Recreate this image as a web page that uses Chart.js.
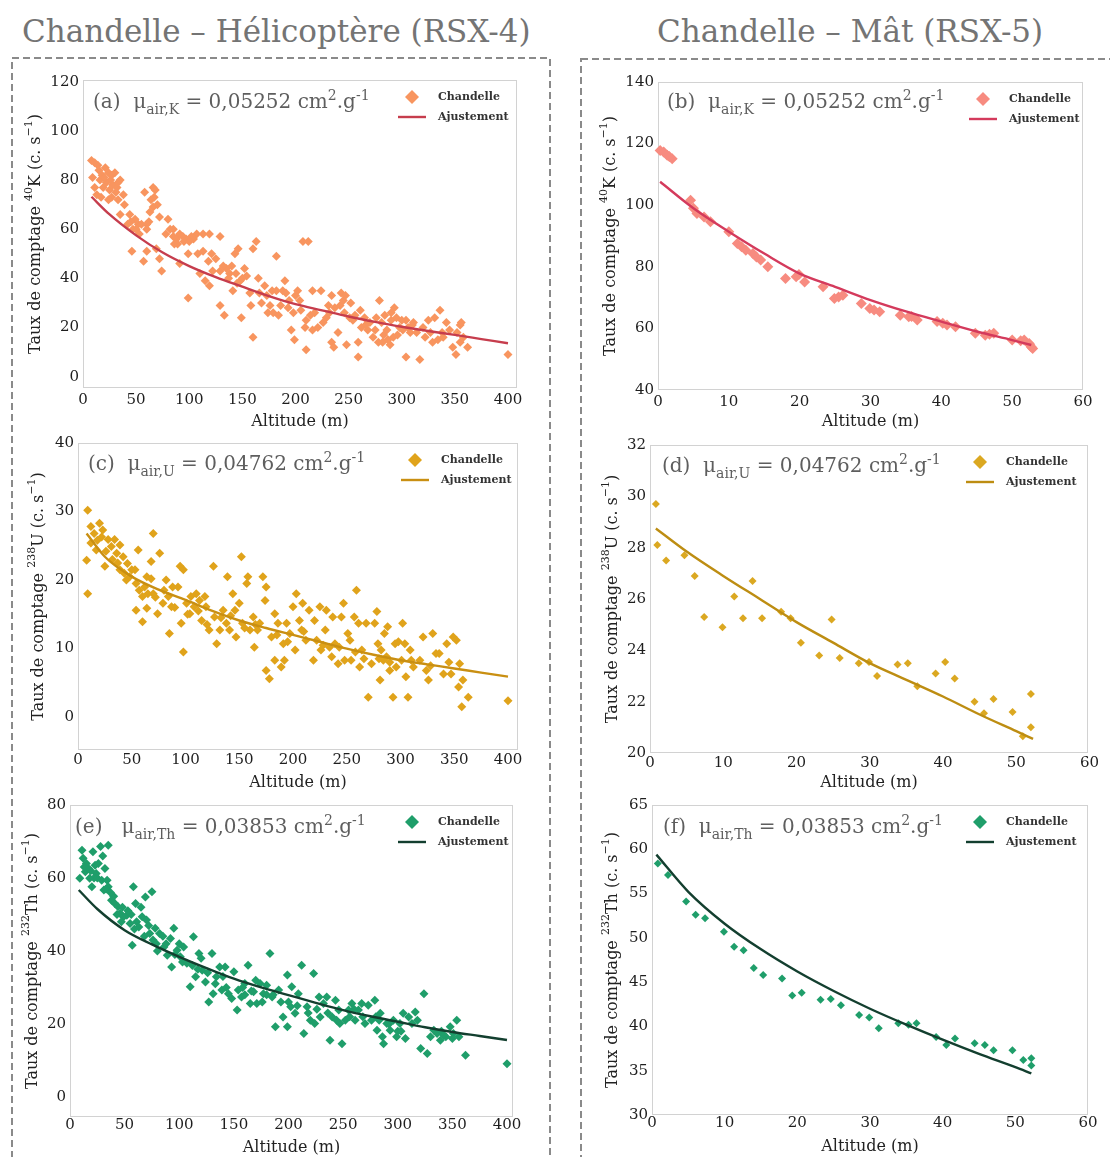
<!DOCTYPE html>
<html>
<head>
<meta charset="utf-8">
<script src="https://cdn.jsdelivr.net/npm/chart.js@4.4.0/dist/chart.umd.min.js"></script>
<style>
  body { margin: 0; background: #fff; width: 1110px; height: 1157px; overflow: hidden; position: relative; font-family: "DejaVu Serif", serif; }
  .ttl { position: absolute; top: 13px; color: #747474; font-size: 31px; white-space: nowrap; }
  canvas { position: absolute; }
  svg { position: absolute; left: 0; top: 0; }
</style>
</head>
<body>
<svg width="1110" height="1157">
  <rect x="12" y="58" width="538" height="1200" fill="none" stroke="#8a8a8a" stroke-width="2" stroke-dasharray="7 4"/>
  <rect x="581" y="59" width="600" height="1200" fill="none" stroke="#8a8a8a" stroke-width="2" stroke-dasharray="7 4"/>
</svg>
<div class="ttl" style="left:22px">Chandelle – Hélicoptère (RSX-4)</div>
<div class="ttl" style="left:657px">Chandelle – Mât (RSX-5)</div>
<canvas id="pa"></canvas>
<canvas id="pb"></canvas>
<canvas id="pc"></canvas>
<canvas id="pd"></canvas>
<canvas id="pe"></canvas>
<canvas id="pf"></canvas>
<script>
'use strict';
// tick labels
let heliTicksX = [0, 50, 100, 150, 200, 250, 300, 350, 400];
let matTicksX = [0, 10, 20, 30, 40, 50, 60];
let kHeliTicksY = [0, 20, 40, 60, 80, 100, 120];
let kMatTicksY = [40, 60, 80, 100, 120, 140];
let uHeliTicksY = [0, 10, 20, 30, 40];
let uMatTicksY = [20, 22, 24, 26, 28, 30, 32];
let thHeliTicksY = [0, 20, 40, 60, 80];
let thMatTicksY = [30, 35, 40, 45, 50, 55, 60, 65];

// 40K, helicopter : [altitude (m), counts (c/s)]
let kHeliPts = [[8,88],[11,87],[14,86],[21,85],[30,83],[9,81],[16,80],[22,79],[28,78],[35,80],[11,77],[19,77],[25,76],[31,75],[17,73],[13,74],[27,73],[33,72],[39,70],[35,66],[44,66],[49,64],[52,62],[42,62],[47,60],[53,58],[60,62],[60,60],[46,51],[57,47],[58,75],[66,77],[68,76],[64,72],[66,69],[63,67],[72,65],[60,51],[72,48],[74,43],[69,52],[78,58],[82,60],[85,57],[88,56],[91,58],[97,56],[104,56],[107,58],[80,64],[89,54],[99,50],[91,46],[99,32],[113,58],[119,58],[121,50],[113,51],[110,42],[115,39],[119,37],[122,43],[129,57],[129,29],[133,25],[129,43],[135,44],[138,42],[141,35],[144,42],[146,52],[143,50],[149,24],[148,39],[154,41],[157,34],[160,52],[163,55],[160,16],[158,29],[165,40],[166,34],[171,37],[173,33],[174,26],[176,29],[179,26],[182,49],[184,25],[182,35],[188,35],[191,34],[190,39],[194,31],[198,26],[196,19],[199,15],[202,35],[204,31],[207,55],[212,55],[210,23],[210,11],[209,20],[216,35],[218,26],[216,19],[221,20],[224,35],[229,24],[231,29],[234,33],[234,14],[236,12],[240,18],[237,28],[242,29],[243,34],[245,31],[246,26],[248,13],[251,24],[254,23],[259,8],[259,14],[261,27],[262,20],[265,24],[268,19],[270,22],[273,16],[276,24],[278,14],[279,31],[281,22],[282,14],[286,19],[284,25],[287,15],[290,23],[292,16],[293,28],[295,24],[298,20],[301,19],[304,8],[304,23],[308,18],[311,22],[317,7],[322,16],[325,23],[329,14],[331,24],[336,27],[334,15],[339,16],[342,22],[348,12],[351,9],[355,21],[356,22],[358,16],[355,14],[362,12],[400,9],[18,82],[26,80],[32,77],[24,83],[85,60],[95,55],[102,57],[140,45],[150,40],[200,33],[252,30],[290,26],[310,21],[345,19],
    [15,84],[20,81],[27,82],[33,79],[38,74],[24,72],[45,63],[50,60],[55,62],[62,63],[70,70],[67,73],[86,54],[94,57],[100,55],[108,50],[118,47],[125,48],[132,45],[137,40],[145,38],[152,44],[168,30],[178,35],[186,29],[193,28],[205,27],[214,25],[226,22],[232,26],[247,33],[256,25],[266,21],[275,19],[283,17],[289,13],[296,17],[300,23],[306,20],[314,18],[320,20],[327,18],[338,18],[352,18]];
let kHeliFitAlt = [8, 25, 50, 75, 100, 125, 150, 175, 200, 225, 250, 275, 300, 325, 350, 375, 400];
let kHeliFitRate = [73.2, 66, 57.5, 50.5, 45, 40.5, 36.6, 32.8, 29.5, 27, 24.5, 22.3, 20.3, 18.6, 17, 15.3, 13.6];

// 40K, mast
let kMatPts = [[0.3,117.8],[0.8,117.3],[1.3,116.2],[2,115.1],[1.6,115.8],[4.6,101.6],[5,99],[5.5,97.3],[6.5,96.2],[7.4,94.6],[10,91.4],[11.2,87.6],[11.8,86.5],[12.4,85.4],[13.4,84.3],[13.9,83.2],[14.5,82.2],[15.5,80],[18,76.2],[19.5,76.8],[19.9,77.5],[20.7,75.1],[23.3,73.5],[24.9,69.7],[25.5,70.2],[26.1,70.8],[28.7,68.1],[29.9,66.5],[30.5,66],[31.3,65.4],[34.2,64.3],[35.4,63.8],[35.8,63.9],[36.6,62.7],[39.4,62.2],[40.2,61.7],[40.8,61.1],[42,60.5],[44.8,58.4],[46.2,57.8],[46.8,58.1],[47.4,58.4],[50,56.2],[51.2,56],[51.7,56.2],[52.4,55.1],[52.5,54.6],[52.7,54],[52.9,53.5]];
let kMatFitAlt = [0.3, 5, 10, 15, 20, 25, 30, 35, 40, 45, 50, 52.7];
let kMatFitRate = [107.6, 99, 91.4, 84.3, 77.8, 73.5, 69.2, 65.5, 62.2, 59, 56.2, 54.6];

// 238U, helicopter
let uHeliPts = [[9,30.2],[9,18],[8,22.9],[12,27.8],[12,25.4],[15,26.8],[17,24.4],[20,28.3],[22,26.3],[23,27.3],[25,22],[28,25.9],[31,24.9],[34,25.9],[36,23.9],[39,25.1],[42,23.4],[39,21.5],[43,21],[46,22.4],[48,20.5],[53,21.5],[54,19.5],[56,24.4],[54,15.6],[57,18.5],[60,17.6],[60,13.9],[64,20.5],[65,18],[68,20.2],[64,15.9],[70,26.8],[68,22.7],[70,18],[76,23.9],[74,15.1],[79,16.6],[82,20],[84,17.6],[87,16.1],[88,19],[85,12.2],[93,19],[95,22],[98,21.5],[98,9.5],[96,13.7],[101,16.6],[104,15.1],[105,17.6],[108,16.1],[110,18],[113,17],[115,14.1],[118,17.6],[119,16.1],[122,12.7],[126,22],[127,14.6],[129,10.7],[132,12.7],[135,15.6],[138,13.7],[139,20.5],[141,12.7],[144,18],[146,15.6],[147,11.7],[150,16.6],[152,23.4],[153,13.7],[157,19.5],[158,20.5],[160,12.7],[163,14.6],[164,10.2],[167,12.7],[169,13.7],[172,20.5],[174,17],[175,19],[175,6.8],[178,5.6],[180,11.7],[183,15.1],[183,8.3],[186,13.7],[189,7.3],[191,10.7],[192,8.3],[194,13.7],[197,12.2],[200,16.1],[202,9.8],[203,18],[206,14.1],[208,12.7],[209,16.6],[212,11.2],[215,15.6],[219,8.3],[220,14.1],[222,11.2],[225,16.1],[226,9.8],[230,12.7],[231,15.6],[234,10.2],[236,8.8],[237,14.6],[239,10.7],[242,7.8],[245,14.6],[247,16.6],[248,8.3],[251,12.2],[253,11.2],[254,8.3],[257,14.6],[259,18.5],[261,13.7],[262,7.3],[264,9.8],[268,13.7],[270,2.9],[273,7.8],[276,13.7],[278,15.4],[279,10.7],[281,5.4],[282,9.8],[284,8.3],[285,12.2],[287,8.8],[288,13.2],[290,6.8],[293,2.9],[295,10.7],[296,7.3],[301,8.3],[302,13.7],[304,10.7],[305,5.9],[307,2.9],[309,9.8],[312,7.3],[318,8.3],[321,11.7],[324,6.8],[326,5.4],[330,12.2],[333,9.3],[336,9.3],[340,6.3],[343,10.7],[347,6.3],[349,11.7],[352,11.2],[354,4.4],[355,7.8],[357,1.5],[358,5.4],[363,2.9],[400,2.4],
    [18,25.8],[26,24.2],[32,23],[37,22.5],[45,20],[50,21.5],[62,19],[72,17.5],[80,18.5],[90,16],[102,15],[112,15.5],[120,13.5],[133,14.5],[142,14.8],[155,13],[165,13.5],[185,12],[195,11],[210,12.5],[228,10.5],[243,10.2],[258,9.5],[266,8.5],[280,8.5],[290,8],[298,11],[310,8.3],[328,7.5],[345,8]];
let uHeliFitAlt = [8, 25, 50, 75, 100, 125, 150, 175, 200, 225, 250, 275, 300, 325, 350, 375, 400];
let uHeliFitRate = [26.8, 23.4, 20.5, 18.6, 17.1, 15.5, 14.1, 13, 12, 11, 10, 9.1, 8.3, 7.7, 7.1, 6.5, 5.9];

// 238U, mast
let uMatPts = [[0.8,29.7],[1,28.1],[2.2,27.5],[4.7,27.7],[6.1,26.9],[7.4,25.3],[9.9,24.9],[11.5,26.1],[12.7,25.25],[14,26.7],[15.3,25.25],[17.9,25.5],[19.2,25.25],[20.6,24.3],[23.1,23.8],[24.8,25.2],[25.9,23.7],[28.5,23.5],[29.9,23.55],[31,23],[33.8,23.45],[35.2,23.5],[36.5,22.6],[39,23.1],[40.3,23.55],[41.6,22.9],[44.3,22],[45.6,21.55],[46.9,22.1],[49.5,21.6],[50.9,20.65],[52,22.3],[52,21]];
let uMatFitAlt = [0.8, 5, 10, 15, 20, 25, 30, 35, 40, 45, 50, 52.3];
let uMatFitRate = [28.75, 27.85, 26.9, 26, 25.1, 24.3, 23.5, 22.85, 22.2, 21.5, 20.85, 20.55];

// 232Th, helicopter
let thHeliPts = [[9,59.9],[11,67.6],[12,65.4],[14,61.7],[17,62.6],[18,59.9],[20,57.6],[21,67.2],[23,63.5],[24,61.2],[28,68.6],[29,59.4],[31,56.7],[32,62.6],[35,69],[34,59.4],[35,57.6],[38,53.9],[41,53],[44,52.1],[46,50.3],[49,49.4],[52,49.8],[55,47.5],[57,41.6],[58,57.6],[60,53],[61,48],[63,46.6],[66,49.4],[69,54.8],[70,48.5],[73,44.8],[75,56.2],[76,43],[78,46.2],[79,42],[82,44.8],[86,41.1],[89,38.8],[92,43.4],[93,35.6],[95,46.2],[98,40.2],[101,38.4],[104,41.1],[107,36.6],[110,30.2],[113,43.9],[115,32.9],[118,39.3],[121,34.7],[124,31.5],[127,26],[130,39.3],[131,28.3],[134,32.9],[137,35.6],[139,29.3],[142,35.6],[145,28.3],[150,34.3],[153,23.8],[154,29.3],[157,27.4],[160,31.1],[163,36.1],[165,25.6],[168,28.8],[170,32],[171,25.6],[174,31.1],[177,28.3],[180,30.6],[183,39.3],[185,27.4],[188,19.2],[191,29.3],[195,21.9],[199,19.2],[199,33.4],[202,24.7],[203,30.2],[206,22.9],[209,28.3],[212,36.1],[214,17.4],[217,24.7],[220,21],[223,33.8],[224,20.1],[228,27.4],[229,21.9],[232,25.6],[235,27.4],[238,15.5],[240,21.9],[243,26.5],[246,23.8],[247,20.1],[249,14.6],[252,21],[255,23.8],[258,25.6],[261,21],[264,23.8],[267,25.6],[270,20.1],[273,25.1],[276,21],[279,26.5],[281,18.3],[284,22.9],[286,16.5],[287,14.6],[290,20.1],[293,18.3],[296,21],[299,16.5],[302,20.1],[305,22.9],[307,16],[310,21.9],[313,20.1],[316,23.3],[321,13.3],[324,28.3],[327,11.9],[330,16.5],[333,18.3],[336,17.4],[339,15.5],[344,16.5],[348,19.2],[351,17.4],[354,21],[356,16.5],[362,11.4],[400,9.1],[15,64],[26,64],[30,66],[22,60],[40,55],[48,52],[56,50],[65,52],[85,44],[100,42],[120,38],[140,33],[160,28],[180,28],[200,26],[260,24],[280,22],[300,18],[340,18],
    [13,63],[19,62],[25,60],[33,57],[37,56],[43,50],[47,48],[53,51],[59,46],[68,44],[72,47],[80,40],[88,42],[96,39],[103,37],[112,36],[117,35],[126,34],[133,31],[143,30],[148,27],[158,30],[166,29],[176,26],[186,28],[193,26],[208,25],[218,23],[226,24],[236,23],[244,21],[256,22],[268,22],[283,21],[292,20],[303,18],[318,21],[342,17],[350,16]];
let thHeliFitAlt = [8, 25, 50, 75, 100, 125, 150, 175, 200, 225, 250, 275, 300, 325, 350, 375, 400];
let thHeliFitRate = [56.7, 51.5, 45.7, 41.8, 38.4, 35.3, 32.4, 30, 27.9, 25.8, 23.8, 22.1, 20.6, 19.1, 17.8, 16.7, 15.6];

// 232Th, mast
let thMatPts = [[0.8,58.4],[2.2,57.1],[4.7,54.1],[6,52.6],[7.3,52.2],[9.9,50.7],[11.3,49],[12.6,48.6],[14,46.6],[15.3,45.8],[17.9,45.4],[19.3,43.5],[20.6,43.8],[23.2,43],[24.6,43.1],[26,42.4],[28.5,41.3],[29.9,41],[31.2,39.8],[33.9,40.35],[35.3,40.2],[36.4,40.35],[39.1,38.8],[40.5,37.9],[41.7,38.65],[44.4,38.1],[45.8,37.9],[47,37.3],[49.6,37.3],[51.1,36.2],[52.2,36.4],[52.2,35.6]];
let thMatFitAlt = [0.6, 5, 10, 15, 20, 25, 30, 35, 40, 45, 50, 52.2];
let thMatFitRate = [59.4, 55.2, 51.6, 48.7, 46.2, 44, 42, 40.2, 38.5, 36.9, 35.4, 34.7];

const YW = 70, PT = 12, PR = 30, XH = 50;
const FONT = '"DejaVu Serif", serif';

function drawRich(ctx, parts, x, y, size) {
    let cx = x;
    for (let i = 0; i < parts.length; i++) {
        let kind = parts[i][1] || 'n';
        let s = kind === 'n' ? size : Math.round(size * 0.7);
        let dy = kind === 'sub' ? size * 0.28 : (kind === 'sup' ? -size * 0.42 : 0);
        ctx.font = s + 'px ' + FONT;
        ctx.fillText(parts[i][0], cx, y + dy);
        cx += ctx.measureText(parts[i][0]).width;
    }
    return cx - x;
}

function richWidth(ctx, parts, size) {
    let w = 0;
    for (let i = 0; i < parts.length; i++) {
        let kind = parts[i][1] || 'n';
        ctx.font = (kind === 'n' ? size : Math.round(size * 0.7)) + 'px ' + FONT;
        w += ctx.measureText(parts[i][0]).width;
    }
    return w;
}

function makeDeco(p) {
    return {
        id: 'deco',
        beforeDatasetsDraw(chart) {
            let a = chart.chartArea, ctx = chart.ctx;
            ctx.save();
            ctx.strokeStyle = '#d2d2d2';
            ctx.lineWidth = 1;
            ctx.strokeRect(a.left + 0.5, a.top + 0.5, a.right - a.left - 1, a.bottom - a.top - 1);
            ctx.restore();
        },
        afterDatasetsDraw(chart) {
            let a = chart.chartArea, ctx = chart.ctx;
            ctx.save();
            // annotation (mu value)
            ctx.fillStyle = '#5e5e5e';
            ctx.textBaseline = 'alphabetic';
            ctx.textAlign = 'left';
            drawRich(ctx, [[p.tag + p.gap + 'μ'], ['air,' + p.el, 'sub'], [' = ' + p.mu + ' cm'], ['2', 'sup'], ['.g'], ['-1', 'sup']],
                a.left + p.annX, a.top + p.annY, 20);

            // legend
            let mx = a.right - p.lgX, y1 = a.top + 17, y2 = a.top + 37;
            ctx.fillStyle = p.dot;
            ctx.beginPath();
            ctx.moveTo(mx, y1 - 7); ctx.lineTo(mx + 7, y1); ctx.lineTo(mx, y1 + 7); ctx.lineTo(mx - 7, y1);
            ctx.closePath();
            ctx.fill();
            ctx.strokeStyle = p.line;
            ctx.lineWidth = 2.4;
            ctx.beginPath();
            ctx.moveTo(mx - 14, y2); ctx.lineTo(mx + 14, y2);
            ctx.stroke();
            ctx.fillStyle = '#333';
            ctx.font = 'bold 11px ' + FONT;
            ctx.textBaseline = 'middle';
            ctx.fillText(chart.data.datasets[1].label, mx + 26, y1);
            ctx.fillText(chart.data.datasets[0].label, mx + 26, y2);

            // axis titles
            ctx.fillStyle = '#222';
            ctx.font = '16px ' + FONT;
            ctx.textAlign = 'center';
            ctx.fillText('Altitude (m)', (a.left + a.right) / 2, a.bottom + p.xtDy);
            let yParts = [['Taux de comptage '], [p.iso, 'sup'], [p.el + ' (c. s'], ['−1', 'sup'], [')']];
            ctx.textAlign = 'left';
            ctx.translate(a.left - p.ytOff, (a.top + a.bottom) / 2);
            ctx.rotate(-Math.PI / 2);
            let w = richWidth(ctx, yParts, 16);
            drawRich(ctx, yParts, -w / 2, 1, 16);
            ctx.restore();
        }
    };
}

function panel(p) {
    let c = document.getElementById(p.id);
    c.width = YW + p.box[2] - p.box[0] + PR;
    c.height = PT + p.box[3] - p.box[1] + XH;
    c.style.left = (p.box[0] - YW) + 'px';
    c.style.top = (p.box[1] - PT) + 'px';
    let tickFont = { family: FONT, size: 15, lineHeight: 1 };
    new Chart(c, {
        type: 'scatter',
        data: {
            datasets: [
                {
                    label: 'Ajustement',
                    data: p.fitAlt.map((x, i) => ({ x: x, y: p.fitRate[i] })),
                    showLine: true,
                    pointRadius: 0,
                    borderColor: p.line,
                    borderWidth: 2.4,
                    cubicInterpolationMode: 'monotone',
                    order: 0
                },
                {
                    label: 'Chandelle',
                    data: p.pts.map(q => ({ x: q[0], y: q[1] })),
                    pointStyle: 'rectRot',
                    pointRadius: p.r,
                    backgroundColor: p.dot,
                    borderWidth: 0,
                    clip: false,
                    order: 1
                }
            ]
        },
        options: {
            responsive: false,
            animation: false,
            events: [],
            layout: { padding: { top: PT, right: PR, left: 0, bottom: 0 } },
            plugins: { legend: { display: false }, tooltip: { enabled: false } },
            scales: {
                x: {
                    type: 'linear', min: p.xr[0], max: p.xr[1],
                    grid: { display: false, drawTicks: false },
                    border: { display: false },
                    ticks: { font: tickFont, color: '#1e1e1e', padding: p.xpad },
                    afterBuildTicks: s => { s.ticks = p.xTicks.map(v => ({ value: v })); },
                    afterFit: s => { s.height = XH; }
                },
                y: {
                    type: 'linear', min: p.yr[0], max: p.yr[1],
                    grid: { display: false, drawTicks: false },
                    border: { display: false },
                    ticks: { font: tickFont, color: '#1e1e1e', padding: 4 },
                    afterBuildTicks: s => { s.ticks = p.yTicks.map(v => ({ value: v })); },
                    afterFit: s => { s.width = YW; }
                }
            }
        },
        plugins: [makeDeco(p)]
    });
}

panel({ id: 'pa', box: [83, 80, 517, 388], xr: [0, 408.5], yr: [-4.6, 120.7], xTicks: heliTicksX, yTicks: kHeliTicksY,
    pts: kHeliPts, fitAlt: kHeliFitAlt, fitRate: kHeliFitRate, dot: '#f8955f', line: '#c63d4d', r: 4.5,
    tag: '(a)', gap: '  ', el: 'K', iso: '40', mu: '0,05252', annX: 10, annY: 28, lgX: 105, xpad: 4.5, xtDy: 34, ytOff: 48 });
panel({ id: 'pb', box: [658, 82, 1083, 390], xr: [0, 60], yr: [40, 140], xTicks: matTicksX, yTicks: kMatTicksY,
    pts: kMatPts, fitAlt: kMatFitAlt, fitRate: kMatFitRate, dot: '#f78b80', line: '#d43a5c', r: 5.5,
    tag: '(b)', gap: '  ', el: 'K', iso: '40', mu: '0,05252', annX: 9, annY: 26, lgX: 100, xpad: 4.5, xtDy: 32, ytOff: 48 });
panel({ id: 'pc', box: [78, 443, 518, 750], xr: [0, 409.3], yr: [-4.8, 40], xTicks: heliTicksX, yTicks: uHeliTicksY,
    pts: uHeliPts, fitAlt: uHeliFitAlt, fitRate: uHeliFitRate, dot: '#e0a31b', line: '#c98f12', r: 4.5,
    tag: '(c)', gap: '  ', el: 'U', iso: '238', mu: '0,04762', annX: 10, annY: 27, lgX: 103, xpad: 2.5, xtDy: 33, ytOff: 40 });
panel({ id: 'pd', box: [650, 445, 1088, 753], xr: [0, 59.8], yr: [20, 32], xTicks: matTicksX, yTicks: uMatTicksY,
    pts: uMatPts, fitAlt: uMatFitAlt, fitRate: uMatFitRate, dot: '#dba821', line: '#bd8d12', r: 4,
    tag: '(d)', gap: '  ', el: 'U', iso: '238', mu: '0,04762', annX: 12, annY: 27, lgX: 108, xpad: 2.5, xtDy: 30, ytOff: 38 });
panel({ id: 'pe', box: [70, 805, 513, 1117], xr: [0, 405.5], yr: [-5.5, 80], xTicks: heliTicksX, yTicks: thHeliTicksY,
    pts: thHeliPts, fitAlt: thHeliFitAlt, fitRate: thHeliFitRate, dot: '#1f9e6a', line: '#133f2f', r: 4.5,
    tag: '(e)', gap: '   ', el: 'Th', iso: '232', mu: '0,03853', annX: 5, annY: 28, lgX: 101, xpad: 0.5, xtDy: 31, ytOff: 38 });
panel({ id: 'pf', box: [652, 805, 1088, 1115], xr: [0, 60], yr: [30, 65], xTicks: matTicksX, yTicks: thMatTicksY,
    pts: thMatPts, fitAlt: thMatFitAlt, fitRate: thMatFitRate, dot: '#1f9e6a', line: '#133f2f', r: 4,
    tag: '(f)', gap: '  ', el: 'Th', iso: '232', mu: '0,03853', annX: 11, annY: 28, lgX: 108, xpad: 0.5, xtDy: 32, ytOff: 40 });
</script>
</body>
</html>
